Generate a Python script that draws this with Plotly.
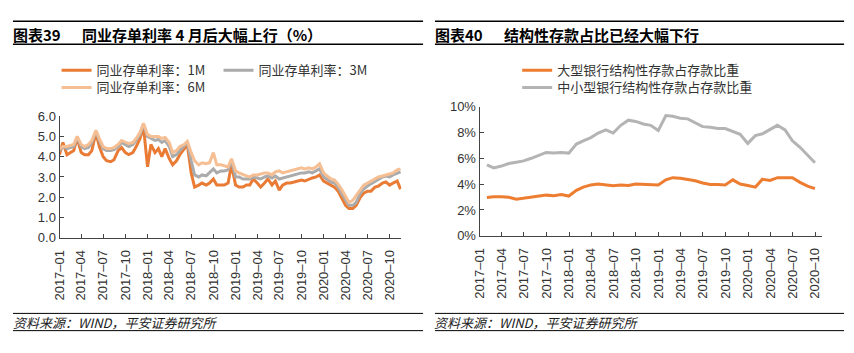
import plotly.graph_objects as go
import pandas as pd

# ---------------- Data ----------------
# Left panel: NCD rates (semi-monthly readings), %
ncd_dates = pd.date_range("2017-01-01", "2020-11-16", freq="SMS").strftime("%Y-%m-%d").tolist()

ncd_1m = [
    4.1, 4.7, 4.1, 4.2, 4.3, 4.9, 4.2, 4.1, 4.1, 4.3, 5.2, 4.5,
    4.0, 3.8, 3.75, 3.85, 4.3, 4.45, 4.2, 4.1, 4.2, 4.5, 4.9, 5.5,
    3.5, 4.6, 4.2, 4.4, 4.0, 4.4, 3.9, 3.6, 3.8, 4.1, 4.4, 4.6,
    3.2, 2.5, 2.6, 2.7, 2.6, 2.7, 2.9, 2.6, 2.6, 2.6, 2.7, 3.6,
    2.6, 2.5, 2.5, 2.6, 2.6, 2.9, 2.7, 2.5, 2.7, 2.9, 2.6, 2.8,
    2.35, 2.6, 2.7, 2.7, 2.75, 2.8, 2.85, 2.8, 2.9, 2.95, 3.0, 3.1,
    2.8, 2.7, 2.6, 2.5, 2.3, 2.0, 1.6, 1.45, 1.45, 1.6, 2.0, 2.2,
    2.3, 2.3, 2.5, 2.55, 2.7, 2.75, 2.6, 2.7, 2.8, 2.4,
]
ncd_3m = [
    4.3, 4.5, 4.4, 4.45, 4.5, 4.95, 4.5, 4.4, 4.45, 4.7, 5.25, 4.8,
    4.4, 4.3, 4.3, 4.35, 4.5, 4.7, 4.6, 4.5, 4.6, 4.8, 5.1, 5.6,
    5.0, 4.9, 4.8, 4.85, 4.7, 4.8, 4.5, 4.0, 4.1, 4.3, 4.5, 4.7,
    3.8, 3.1, 3.0, 3.1, 3.05, 3.2, 3.4, 3.2, 3.3, 3.3, 3.35, 3.8,
    3.0, 3.0, 2.9, 2.9, 2.9, 3.0, 2.95, 2.9, 3.0, 3.05, 2.95, 3.05,
    2.9, 2.95, 3.0, 3.05, 3.1, 3.15, 3.2, 3.2, 3.25, 3.2, 3.3, 3.4,
    3.0, 2.9, 2.75, 2.7, 2.5, 2.2, 1.85, 1.6, 1.6, 1.75, 2.2, 2.4,
    2.55, 2.65, 2.8, 2.9, 3.0, 3.05, 3.0, 3.1, 3.2, 3.25,
]
ncd_6m = [
    4.4, 4.5, 4.5, 4.55, 4.6, 5.0, 4.6, 4.5, 4.6, 4.8, 5.3, 4.9,
    4.5, 4.4, 4.4, 4.45, 4.6, 4.8, 4.7, 4.65, 4.7, 4.9, 5.2, 5.65,
    5.1, 5.0, 5.0, 5.0, 4.9, 4.95, 4.7, 4.2, 4.3, 4.5, 4.6, 4.75,
    4.2, 3.8, 3.6, 3.7, 3.65, 3.7, 4.2, 3.6, 3.6, 3.55, 3.5, 3.9,
    3.3, 3.2, 3.1, 3.05, 3.0, 3.1, 3.1, 3.15, 3.2, 3.2, 3.1, 3.25,
    3.3, 3.2, 3.25, 3.3, 3.35, 3.4, 3.45, 3.4, 3.45, 3.4, 3.5, 3.65,
    3.2, 3.05, 2.9, 2.85, 2.65, 2.4, 2.0, 1.75, 1.85, 2.1, 2.4, 2.6,
    2.7, 2.8, 2.9, 3.0, 3.05, 3.1, 3.15, 3.2, 3.35, 3.4,
]

# Right panel: structured deposit share (monthly), %
sd_dates = pd.date_range("2017-01-31", periods=45, freq="ME").strftime("%Y-%m-%d").tolist()
large_banks = [
    2.96, 3.03, 3.03, 2.98, 2.83, 2.90, 2.98, 3.05, 3.15, 3.10, 3.20, 3.08,
    3.52, 3.77, 3.94, 4.01, 3.94, 3.87, 3.94, 3.89, 4.01, 3.97, 3.94, 3.94,
    4.33, 4.50, 4.46, 4.38, 4.26, 4.09, 3.97, 3.97, 3.94, 4.33, 4.01, 3.89,
    3.77, 4.38, 4.28, 4.50, 4.50, 4.50, 4.14, 3.84, 3.65,
]
small_banks = [
    5.49, 5.25, 5.40, 5.60, 5.70, 5.80, 6.00, 6.20, 6.45, 6.40, 6.45, 6.40,
    7.10, 7.35, 7.60, 7.95, 8.20, 7.95, 8.55, 8.95, 8.85, 8.65, 8.55, 8.15,
    9.30, 9.25, 9.10, 9.05, 8.75, 8.45, 8.40, 8.30, 8.30, 8.10, 7.85, 7.15,
    7.75, 7.90, 8.20, 8.55, 8.20, 7.35, 6.85, 6.25, 5.65,
]

left_names = ["同业存单利率：1M", "同业存单利率：3M", "同业存单利率：6M"]
right_names = ["大型银行结构性存款占存款比重", "中小型银行结构性存款占存款比重"]

# ---------------- Figure ----------------
W, H = 854, 353
CJK = "Noto Sans CJK SC"
LAT = "Liberation Sans, Arial, sans-serif"

def px_x(p):
    return p / W

def px_y(p):
    return 1 - p / H

fig = go.Figure()

c1m, c3m, c6m = "#E97B35", "#ABABAB", "#F5BE93"
fig.add_trace(go.Scatter(x=ncd_dates, y=ncd_1m, mode="lines", name=left_names[0],
                         line=dict(color=c1m, width=3), xaxis="x", yaxis="y", legend="legend"))
fig.add_trace(go.Scatter(x=ncd_dates, y=ncd_3m, mode="lines", name=left_names[1],
                         line=dict(color=c3m, width=3), xaxis="x", yaxis="y", legend="legend"))
fig.add_trace(go.Scatter(x=ncd_dates, y=ncd_6m, mode="lines", name=left_names[2],
                         line=dict(color=c6m, width=3), xaxis="x", yaxis="y", legend="legend2"))

fig.add_trace(go.Scatter(x=sd_dates, y=large_banks, mode="lines", name=right_names[0],
                         line=dict(color="#ED7D31", width=3), xaxis="x2", yaxis="y2", legend="legend3"))
fig.add_trace(go.Scatter(x=sd_dates, y=small_banks, mode="lines", name=right_names[1],
                         line=dict(color="#B4B4B4", width=3), xaxis="x2", yaxis="y2", legend="legend4"))

axis_common = dict(showgrid=False, zeroline=False, showline=True, linecolor="#444", linewidth=1,
                   ticks="inside", ticklen=4, tickcolor="#444",
                   tickfont=dict(family=LAT, size=13, color="#333"))

leg_font = dict(family=CJK, size=13, color="#333")
fig.update_layout(
    width=W, height=H,
    margin=dict(l=0, r=0, t=0, b=0),
    paper_bgcolor="white", plot_bgcolor="white",
    showlegend=True,
    xaxis=dict(domain=[px_x(52), px_x(397)], type="date", range=["2017-01-01", "2020-11-18"],
               tick0="2017-01-01", dtick="M3", tickformat="%Y–%m", tickangle=-90,
               ticklabelstandoff=6, anchor="y", **axis_common),
    yaxis=dict(domain=[px_y(241), px_y(114)], range=[0, 6], dtick=1, tickformat=".1f",
               anchor="x", **axis_common),
    xaxis2=dict(domain=[px_x(476), px_x(822)], type="date", range=["2017-01-01", "2020-10-30"],
                tick0="2017-01-01", dtick="M3", tickformat="%Y–%m", tickangle=-90,
                ticklabelstandoff=6, anchor="y2", **axis_common),
    yaxis2=dict(domain=[px_y(239), px_y(104)], range=[0, 10], dtick=2, ticksuffix="%",
                anchor="x2", **axis_common),
    legend=dict(orientation="h", x=px_x(49), y=px_y(66), xanchor="left", yanchor="middle",
                entrywidth=117, entrywidthmode="pixels", font=leg_font, bgcolor="rgba(0,0,0,0)"),
    legend2=dict(orientation="h", x=px_x(49), y=px_y(84), xanchor="left", yanchor="middle",
                 font=leg_font, bgcolor="rgba(0,0,0,0)"),
    legend3=dict(orientation="h", x=px_x(514), y=px_y(66), xanchor="left", yanchor="middle",
                 font=leg_font, bgcolor="rgba(0,0,0,0)"),
    legend4=dict(orientation="h", x=px_x(514), y=px_y(84), xanchor="left", yanchor="middle",
                 font=leg_font, bgcolor="rgba(0,0,0,0)"),
)

# Header / footer rules
shapes = []
for (x0, x1) in [(5, 419), (431, 844)]:
    for yy, lw in [(15, 1.5), (39, 1.5), (320, 1), (338, 1)]:
        shapes.append(dict(type="line", xref="paper", yref="paper", x0=px_x(x0), x1=px_x(x1),
                           y0=px_y(yy), y1=px_y(yy), line=dict(color="#000", width=lw)))
fig.update_layout(shapes=shapes)

title_font = dict(family=CJK, size=15, color="#000")
ann = [
    dict(text="<b>图表39</b>", x=px_x(3), y=px_y(29)),
    dict(text="<b>同业存单利率 4 月后大幅上行（%）</b>", x=px_x(73), y=px_y(29)),
    dict(text="<b>图表40</b>", x=px_x(429), y=px_y(29)),
    dict(text="<b>结构性存款占比已经大幅下行</b>", x=px_x(499), y=px_y(29)),
]
for a in ann:
    fig.add_annotation(xref="paper", yref="paper", xanchor="left", yanchor="middle",
                       showarrow=False, font=title_font, **a)

foot_font = dict(family=CJK, size=13, color="#222")
for fx in [3, 428]:
    fig.add_annotation(text="<i>资料来源：WIND，平安证券研究所</i>", xref="paper", yref="paper",
                       x=px_x(fx), y=px_y(330), xanchor="left", yanchor="middle",
                       showarrow=False, font=foot_font)

fig.write_html("out.html")
